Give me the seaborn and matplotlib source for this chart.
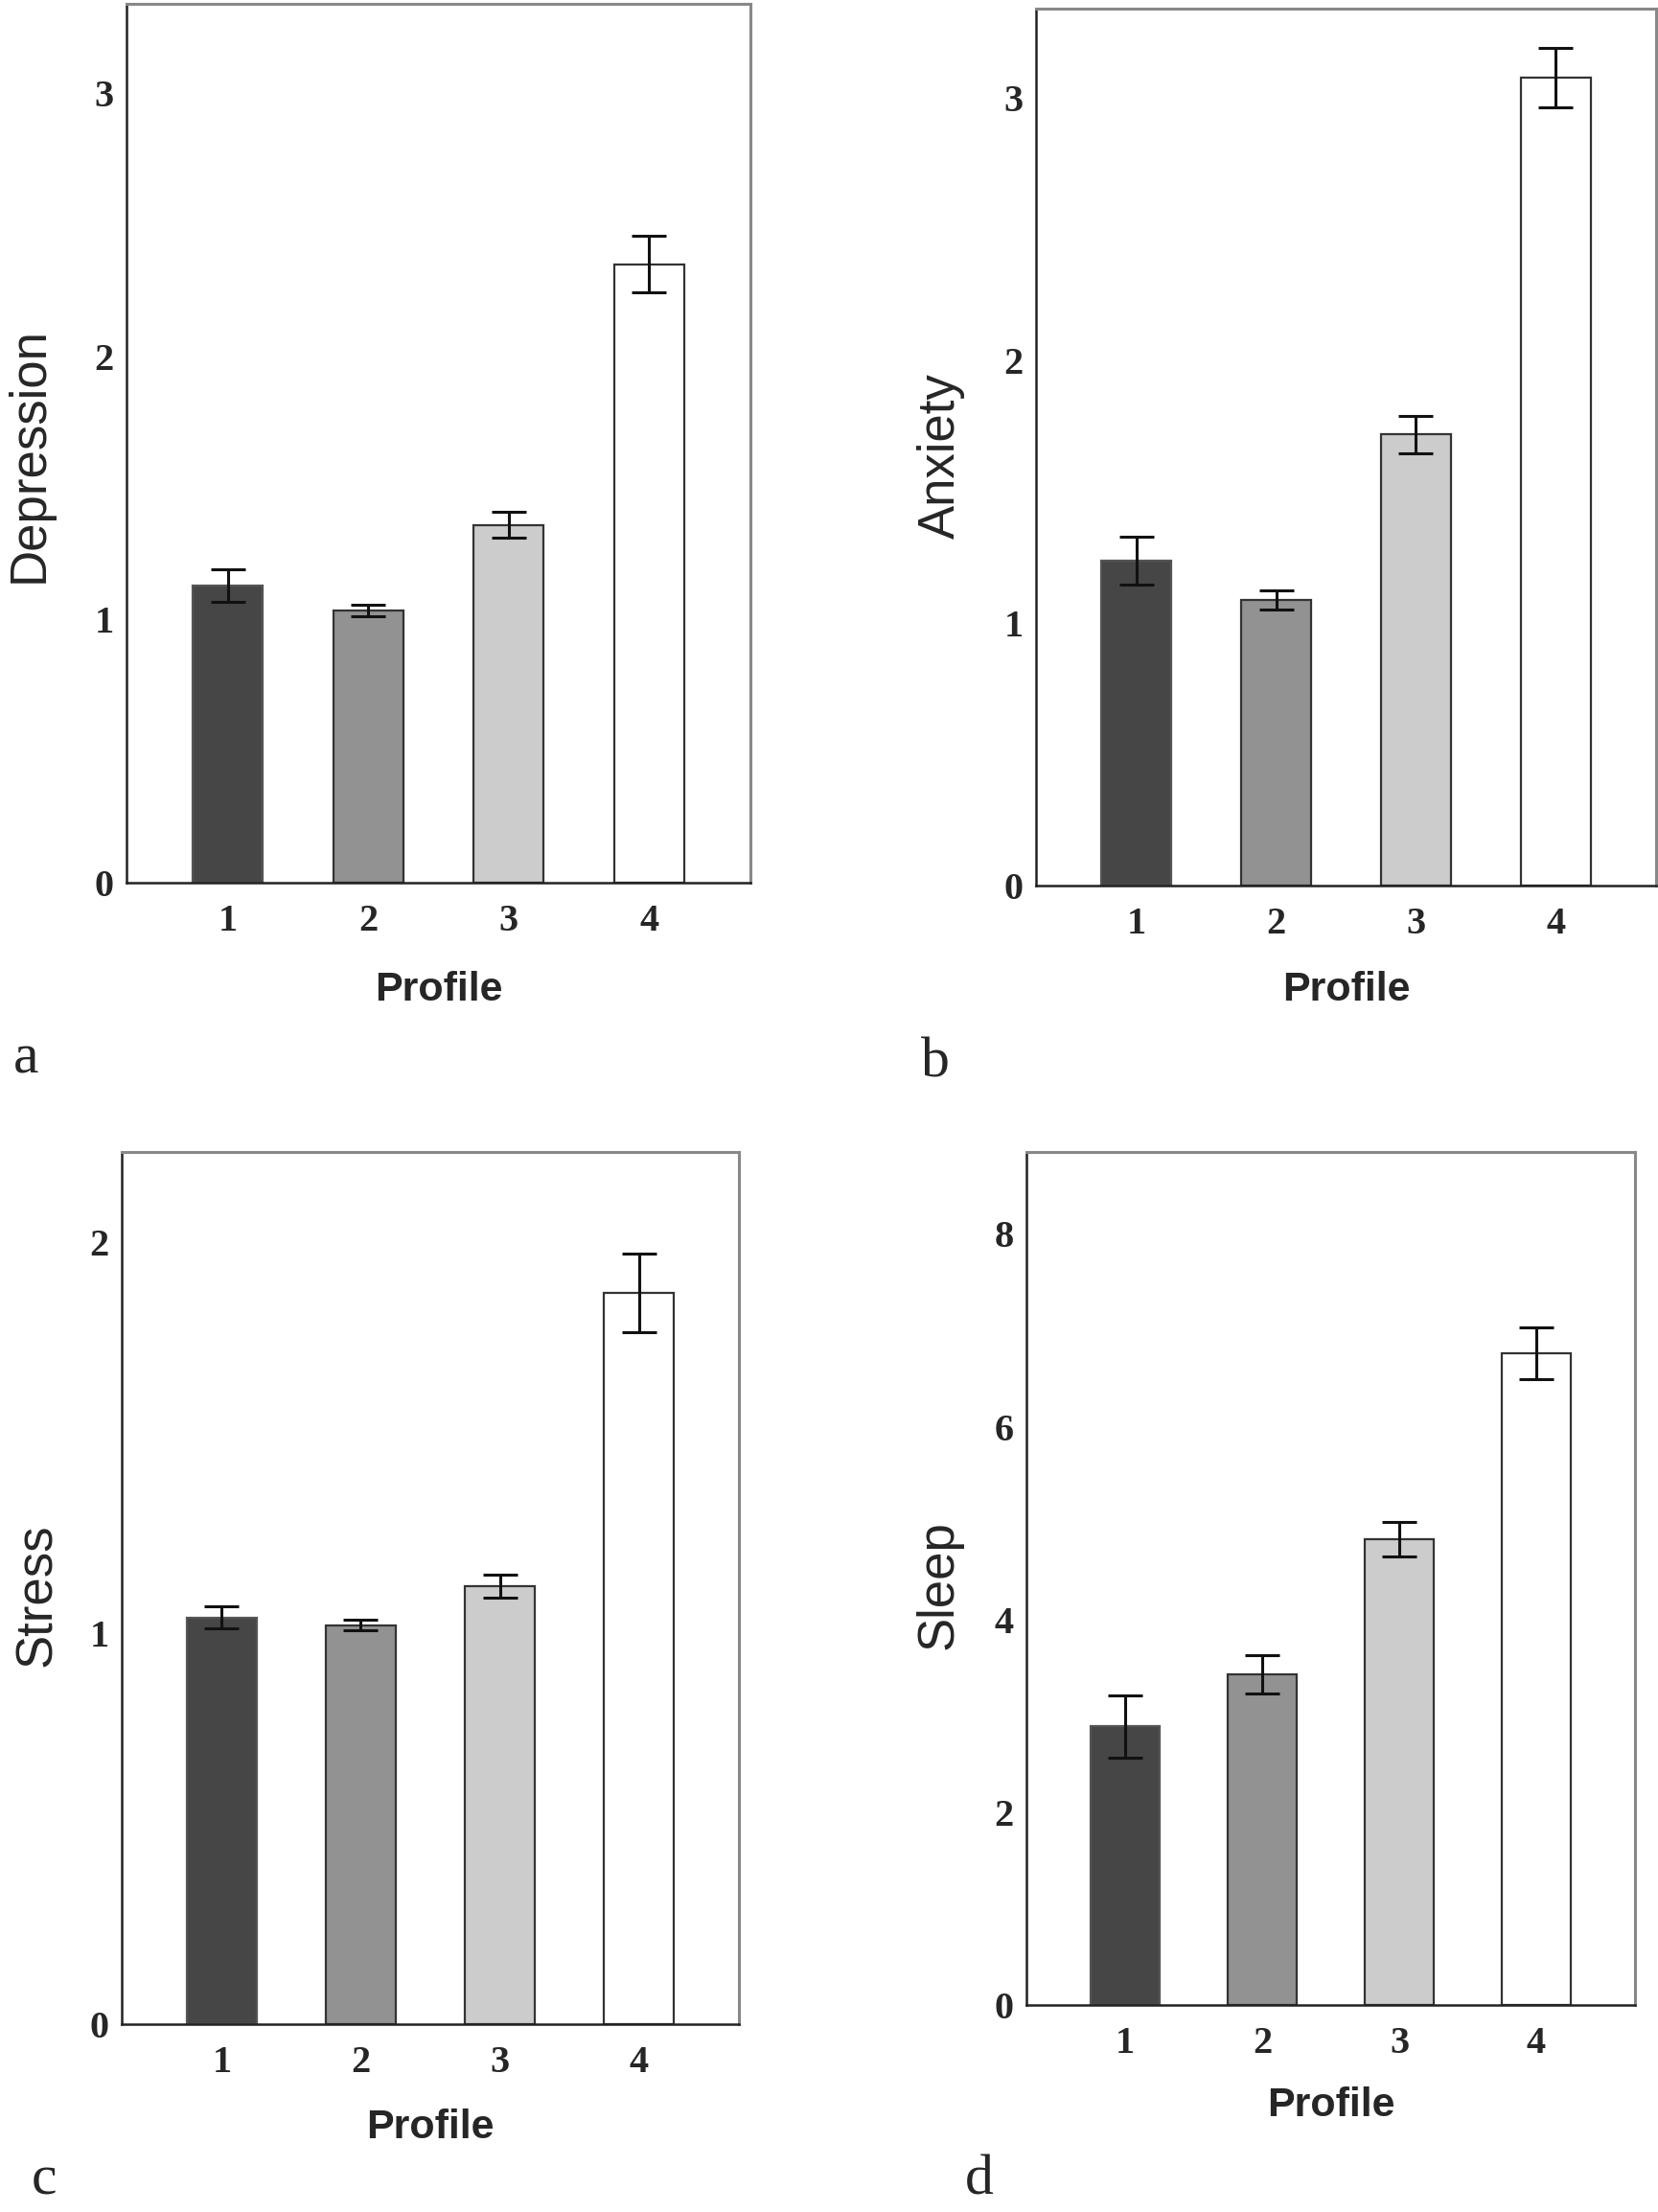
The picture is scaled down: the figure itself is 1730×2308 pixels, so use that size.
import matplotlib
matplotlib.use('Agg')
import matplotlib.pyplot as plt
import seaborn as sns
import pandas as pd

# ---- data ----
profiles = ['1', '2', '3', '4']

depression_mean = [1.13, 1.035, 1.36, 2.35]
depression_err = [0.062, 0.022, 0.05, 0.108]

anxiety_mean = [1.236, 1.088, 1.718, 3.078]
anxiety_err = [0.091, 0.036, 0.07, 0.113]

stress_mean = [1.04, 1.02, 1.12, 1.87]
stress_err = [0.029, 0.014, 0.03, 0.10]

sleep_mean = [2.89, 3.43, 4.83, 6.76]
sleep_err = [0.32, 0.20, 0.18, 0.27]

depression_ticks = [0, 1, 2, 3]
anxiety_ticks = [0, 1, 2, 3]
stress_ticks = [0, 1, 2]
sleep_ticks = [0, 2, 4, 6, 8]

bar_colors = ['#464646', '#929292', '#cccccc', '#ffffff']

sns.set_theme(style='white')
plt.rcParams['font.family'] = ['Liberation Sans', 'DejaVu Sans']

W, H = 1731, 2308
fig = plt.figure(figsize=(W / 100, H / 100), dpi=100)

panels = [
    dict(ylabel='Depression', means=depression_mean, errs=depression_err, ymax=3.34,
         yticks=depression_ticks, box=(132, 4, 783, 921), ylab_x=56, ylab_y=0.487,
         xlab_off=92, letter='a', letter_xy=(14, 1120)),
    dict(ylabel='Anxiety', means=anxiety_mean, errs=anxiety_err, ymax=3.34,
         yticks=anxiety_ticks, box=(1081, 9, 1728, 924), ylab_x=1007, ylab_y=0.49,
         xlab_off=89, letter='b', letter_xy=(961, 1123)),
    dict(ylabel='Stress', means=stress_mean, errs=stress_err, ymax=2.23,
         yticks=stress_ticks, box=(127, 1202, 771, 2112), ylab_x=64, ylab_y=0.492,
         xlab_off=88, letter='c', letter_xy=(33, 2290)),
    dict(ylabel='Sleep', means=sleep_mean, errs=sleep_err, ymax=8.85,
         yticks=sleep_ticks, box=(1071, 1202, 1706, 2092), ylab_x=1005, ylab_y=0.493,
         xlab_off=85, letter='d', letter_xy=(1007, 2290)),
]

serif_bold = dict(family='Liberation Serif', weight='bold', size=29)

for p in panels:
    l, t, r, b = p['box']
    ax = fig.add_axes([l / W, 1 - b / H, (r - l) / W, (b - t) / H])
    df = pd.DataFrame({'Profile': profiles, 'value': p['means']})
    sns.barplot(data=df, x='Profile', y='value', hue='Profile', palette=bar_colors,
                legend=False, width=0.5, errorbar=None, ax=ax, linewidth=1.6,
                edgecolor='#333333')
    # first (dark) bar has an edge close to its fill
    ax.patches[0].set_edgecolor('#555555')
    ax.errorbar(range(len(profiles)), p['means'], yerr=p['errs'], fmt='none',
                ecolor='#111111', elinewidth=2.2, capsize=13, capthick=2.2, zorder=5)
    ax.set_xlim(-0.72, 3.72)
    ax.set_ylim(0, p['ymax'])
    ax.set_yticks(p['yticks'])
    ax.set_yticklabels([str(v) for v in p['yticks']], fontdict=serif_bold)
    ax.set_xticks(range(len(profiles)))
    ax.set_xticklabels(profiles, fontdict=serif_bold)
    ax.tick_params(axis='y', length=0, pad=9.5)
    ax.tick_params(axis='x', length=0, pad=15.5)
    for side in ['left', 'bottom']:
        ax.spines[side].set_color('#222222')
        ax.spines[side].set_linewidth(1.8)
    for side in ['top', 'right']:
        ax.spines[side].set_color('#888888')
        ax.spines[side].set_linewidth(2.2)
    ax.set_facecolor('white')

    ax.set_ylabel(p['ylabel'], fontsize=38)
    ax.yaxis.set_label_coords((p['ylab_x'] - l) / (r - l), p['ylab_y'])
    ax.set_xlabel('Profile', fontsize=31, fontweight='bold')
    ax.xaxis.set_label_coords(0.5, -p['xlab_off'] / (b - t))

    lx, ly = p['letter_xy']
    fig.text(lx / W, 1 - ly / H, p['letter'], family='Liberation Serif', size=43,
             ha='left', va='baseline')

fig.savefig('out.png', dpi=100, facecolor='white')
